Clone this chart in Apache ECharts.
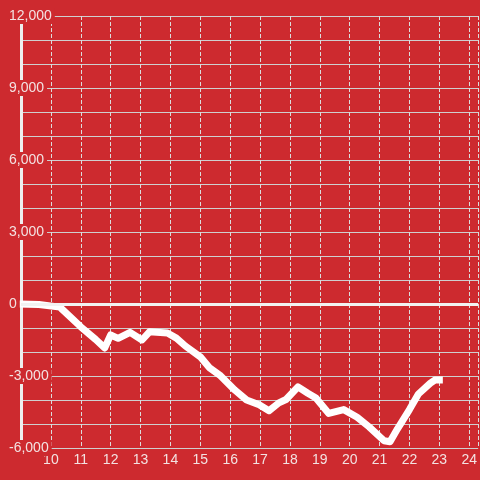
<!DOCTYPE html>
<html>
<head>
<meta charset="utf-8">
<script src="https://cdn.jsdelivr.net/npm/echarts@6/dist/echarts.min.js"></script>
<style>html,body{margin:0;padding:0;background:#cd2a2f;}#c{width:480px;height:480px;}</style>
</head>
<body>
<div id="c"></div>
<script>
// Hours of day (x) and running value (y)
const hours = [9.0, 9.6, 10.3, 11.0, 11.5, 11.8, 12.0, 12.25, 12.65, 13.05, 13.3, 13.9, 14.2, 14.5, 15.0, 15.3, 15.65, 16.15, 16.55, 16.97, 17.3, 17.63, 17.87, 18.27, 18.6, 18.87, 19.3, 19.8, 20.25, 20.65, 21.15, 21.35, 21.6, 22.0, 22.3, 22.7, 22.85, 23.0];
const values = [0, -20, -130, -950, -1480, -1830, -1290, -1430, -1180, -1500, -1160, -1210, -1420, -1750, -2200, -2650, -2960, -3580, -4000, -4200, -4450, -4120, -3980, -3450, -3720, -3920, -4560, -4400, -4720, -5120, -5700, -5740, -5200, -4400, -3750, -3300, -3170, -3170];
const xTicks = [10, 11, 12, 13, 14, 15, 16, 17, 18, 19, 20, 21, 22, 23, 24];
const yTickLabels = [-6000, -3000, 0, 3000, 6000, 9000, 12000];

const bg = '#cd2a2f';
const txt = '#f3e2e2';
const chart = echarts.init(document.getElementById('c'), null, {renderer: 'canvas'});
chart.setOption({
  backgroundColor: bg,
  animation: false,
  grid: {left: 21, right: 0, top: 16, bottom: 32, containLabel: false},
  xAxis: {
    type: 'value', min: 9, max: 24.3, interval: 1,
    axisLine: {show: false}, axisTick: {show: false},
    axisLabel: {
      showMinLabel: false, showMaxLabel: false, color: txt, fontSize: 14, margin: 5,
      fontFamily: 'Liberation Sans',
      formatter: v => xTicks.includes(v) ? String(v) : ''
    },
    splitLine: {show: true, lineStyle: {color: '#dcdcdc', width: 1, type: [4, 2]}}
  },
  yAxis: [{
    type: 'value', min: -6000, max: 12000, interval: 1000, z: 0,
    axisLine: {show: true, lineStyle: {color: '#eeeeee', width: 3}},
    axisTick: {show: false}, axisLabel: {show: false},
    splitLine: {show: true, lineStyle: {color: '#cfcfcf', width: 1}}
  }, {
    type: 'value', min: -6000, max: 12000, interval: 3000, z: 10, position: 'left',
    axisLine: {show: false}, axisTick: {show: false}, splitLine: {show: false},
    axisLabel: {
      color: txt, fontSize: 14, fontFamily: 'Liberation Sans', align: 'left', margin: 15,
      backgroundColor: bg, padding: [1, 3, 1, 3], lineHeight: 14,
      formatter: v => yTickLabels.includes(v) ? v.toLocaleString('en-US') : ''
    }
  }],
  series: [{
    type: 'line', yAxisIndex: 0, symbol: 'none', z: 3,
    data: hours.map((h, i) => [h, values[i]]),
    lineStyle: {color: '#ffffff', width: 7, cap: 'square', join: 'round'},
    markLine: {
      silent: true, symbol: 'none', label: {show: false},
      lineStyle: {color: '#f2f2f2', width: 3, type: 'solid'},
      data: [{yAxis: 0}]
    }
  }]
});
</script>
</body>
</html>
